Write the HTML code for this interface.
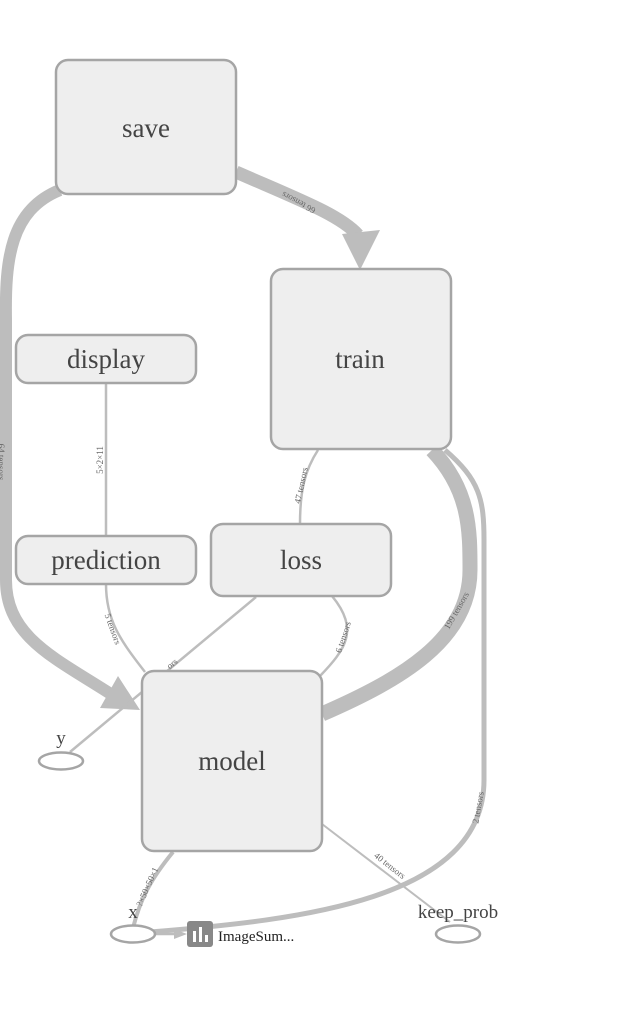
<!DOCTYPE html>
<html><head><meta charset="utf-8"><style>
html,body{margin:0;padding:0;background:#fff;width:625px;height:1009px;overflow:hidden}
svg{display:block}
.n{fill:#eeeeee;stroke:#a5a5a5;stroke-width:2.5}
.t{font-family:"Liberation Serif",serif;fill:#444;text-anchor:middle}
.e{fill:none;stroke:#bdbdbd}
.l{font-family:"Liberation Serif",serif;font-size:9px;fill:#666}
</style></head><body>
<svg width="625" height="1009" viewBox="0 0 625 1009">
<path class="e" d="M60,190 C10,210 5,260 6,320 L6,580 C6,640 60,660 120,700" stroke-width="12"/>
<polygon points="100,708 140,710 118,676" fill="#bdbdbd"/>
<path class="e" d="M236,172 C300,200 340,215 358,235" stroke-width="13"/>
<polygon points="342,234 380,230 360,270" fill="#bdbdbd"/>
<path class="e" d="M106,384 L106,536" stroke-width="2.5"/>
<path class="e" d="M106,584 C106,620 120,640 145,672" stroke-width="2.5"/>
<path class="e" d="M318,450 C305,470 300,490 300,524" stroke-width="2.5"/>
<path class="e" d="M332,596 C360,630 345,650 320,676" stroke-width="2.5"/>
<path class="e" d="M256,597 L70,752" stroke-width="2.5"/>
<path class="e" d="M432,450 C470,490 470,530 470,570 C470,640 400,680 322,714" stroke-width="15"/>
<path class="e" d="M445,450 C480,480 484,500 484,540 L484,780 C484,900 300,920 150,932" stroke-width="5"/>
<path class="e" d="M322,824 L450,922" stroke-width="2"/>
<path class="e" d="M173,852 C150,880 140,900 133,928" stroke-width="4"/>
<path class="e" d="M155,934 L178,934" stroke-width="2.5"/>
<polygon points="174,929 187,934 174,939" fill="#bdbdbd"/>
<text class="l" transform="translate(300,200) rotate(208)" text-anchor="middle">66 tensors</text>
<text class="l" transform="translate(-2,462) rotate(90)" text-anchor="middle">64 tensors</text>
<text class="l" transform="translate(103,460) rotate(-90)" text-anchor="middle">5×2×11</text>
<text class="l" transform="translate(110,630) rotate(70)" text-anchor="middle">5 tensors</text>
<text class="l" transform="translate(304,486) rotate(-78)" text-anchor="middle">47 tensors</text>
<text class="l" transform="translate(346,638) rotate(-72)" text-anchor="middle">6 tensors</text>
<text class="l" transform="translate(174,666) rotate(-40)" text-anchor="middle">ors</text>
<text class="l" transform="translate(459,612) rotate(-60)" text-anchor="middle">199 tensors</text>
<text class="l" transform="translate(481,808) rotate(-80)" text-anchor="middle">2 tensors</text>
<text class="l" transform="translate(388,868) rotate(38)" text-anchor="middle">40 tensors</text>
<text class="l" transform="translate(150,888) rotate(-66)" text-anchor="middle">?×50×50×1</text>
<rect class="n" x="56" y="60" width="180" height="134" rx="12"/>
<text class="t" x="146" y="137" font-size="27">save</text>
<rect class="n" x="271" y="269" width="180" height="180" rx="12"/>
<text class="t" x="360" y="368" font-size="27">train</text>
<rect class="n" x="16" y="335" width="180" height="48" rx="12"/>
<text class="t" x="106" y="368" font-size="27">display</text>
<rect class="n" x="16" y="536" width="180" height="48" rx="12"/>
<text class="t" x="106" y="569" font-size="27">prediction</text>
<rect class="n" x="211" y="524" width="180" height="72" rx="12"/>
<text class="t" x="301" y="569" font-size="27">loss</text>
<rect class="n" x="142" y="671" width="180" height="180" rx="12"/>
<text class="t" x="232" y="770" font-size="27">model</text>
<ellipse cx="61" cy="761" rx="22" ry="8.5" fill="#fff" stroke="#a5a5a5" stroke-width="2.5"/>
<text class="t" x="61" y="744" font-size="19">y</text>
<ellipse cx="133" cy="934" rx="22" ry="8.5" fill="#fff" stroke="#a5a5a5" stroke-width="2.5"/>
<text class="t" x="133" y="918" font-size="19">x</text>
<ellipse cx="458" cy="934" rx="22" ry="8.5" fill="#fff" stroke="#a5a5a5" stroke-width="2.5"/>
<text class="t" x="458" y="918" font-size="19">keep_prob</text>
<rect x="187" y="921" width="26" height="26" rx="3" fill="#888"/>
<rect x="193" y="931" width="3" height="11" fill="#fff"/>
<rect x="199" y="927" width="3" height="15" fill="#fff"/>
<rect x="205" y="935" width="3" height="7" fill="#fff"/>
<text x="218" y="941" font-family="Liberation Serif,serif" font-size="15" fill="#222">ImageSum...</text>
</svg>
</body></html>
